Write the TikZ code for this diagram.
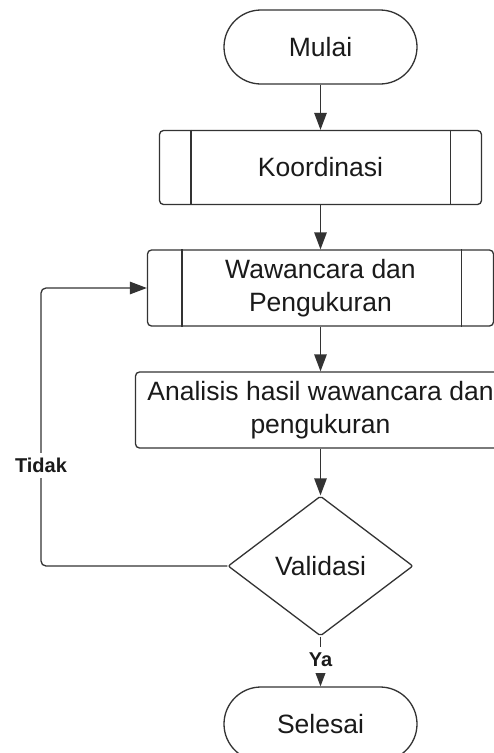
\documentclass[tikz,border=0pt]{standalone}
\usepackage{fontspec}
\setmainfont{Liberation Sans}
\usetikzlibrary{arrows.meta,shapes.geometric}
\definecolor{ink}{HTML}{333333}
\definecolor{txt}{HTML}{1A1A1A}
\begin{document}
\begin{tikzpicture}[x=1pt,y=-1pt,
  base/.style={draw=ink, line width=1.3pt, text=txt, font=\fontsize{26.5}{33}\selectfont, align=center, inner sep=0pt},
  terminal/.style={base, rounded corners=37pt, minimum width=193pt, minimum height=74pt},
  subproc/.style={base, rounded corners=4pt, minimum height=74pt},
  procbox/.style={base, rounded corners=4pt, minimum height=76pt},
  decision/.style={base, diamond, minimum width=185pt, minimum height=140pt, rounded corners=2pt},
  divider/.style={draw=ink, line width=1.3pt},
  flow/.style={draw=ink, line width=1.3pt, -{Triangle[length=17pt,width=12.5pt]}},
  lbl/.style={fill=white, text=txt, font=\fontsize{20}{24}\selectfont\bfseries, inner xsep=1pt, inner ysep=0pt}]
\clip (0,0) rectangle (494,753);
\fill[white] (0,0) rectangle (494,753);

% flowchart steps
\node[terminal] (start) at (320.5,47) {Mulai};
\node[subproc, minimum width=322pt] (koord) at (320.5,167.5) {Koordinasi};
\node[subproc, minimum width=346pt, minimum height=76pt] (waw) at (320.5,288) {Wawancara dan\\Pengukuran};
\node[procbox, minimum width=370pt] (anal) at (320.5,410) {Analisis hasil wawancara dan\\pengukuran};
\node[decision] (val) at (320.5,566) {Validasi};
\node[terminal] (finish) at (320.5,724) {Selesai};

% predefined-process side bars
\draw[divider] ([xshift=32pt]koord.north west) -- ([xshift=32pt]koord.south west);
\draw[divider] ([xshift=-32pt]koord.north east) -- ([xshift=-32pt]koord.south east);
\draw[divider] ([xshift=35pt]waw.north west) -- ([xshift=35pt]waw.south west);
\draw[divider] ([xshift=-33pt]waw.north east) -- ([xshift=-33pt]waw.south east);

% main flow
\draw[flow] (start.south) -- (koord.north);
\draw[flow] (koord.south) -- (waw.north);
\draw[flow] (waw.south) -- (anal.north);
\draw[flow] (anal.south) -- (val.north);
\draw[flow] (val.south) -- (finish.north);

% loop back when validation fails
\coordinate (bend) at (41,566);
\draw[flow, rounded corners=5pt] (val.west) -- (bend) |- (waw.west);

% branch labels
\node[lbl, minimum height=25pt] (tidak) at (41,465) {Tidak};
\node[lbl, minimum height=26pt] (ya) at (320.5,659.5) {Ya};
\end{tikzpicture}
\end{document}
